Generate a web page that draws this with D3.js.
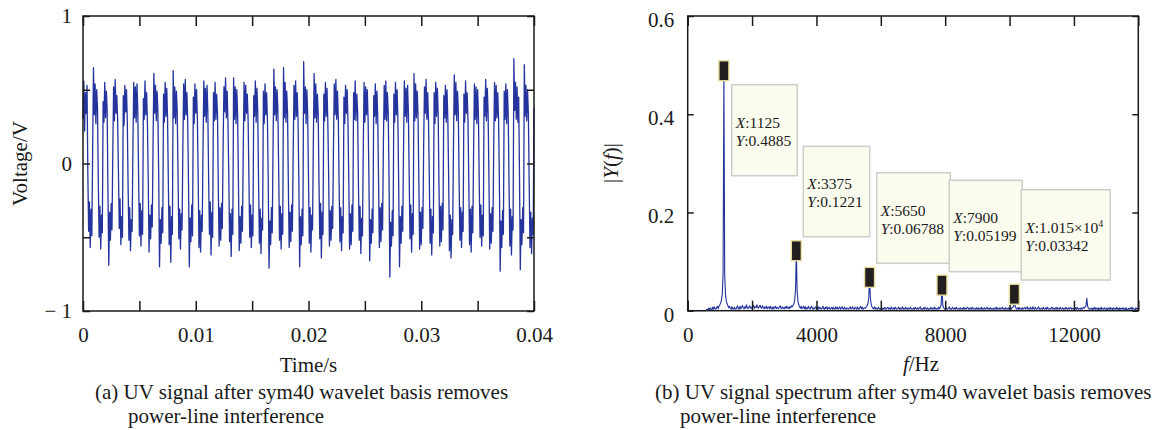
<!DOCTYPE html>
<html>
<head>
<meta charset="utf-8">
<script src="https://cdn.jsdelivr.net/npm/d3@7"></script>
<style>
  html, body { margin: 0; padding: 0; background: #fff; }
  svg { display: block; }
  text { font-family: "Liberation Serif", "Times New Roman", serif; fill: #1a1a1a; }
</style>
</head>
<body>
<svg id="fig" width="1166" height="430"></svg>
<script>
// ---- UV signal, sampled at 14 kHz over 0 ... 0.04 s (one row per ~1125 Hz cycle) ----
const sampleRate = 14000;
const uvSignal = [
  0.30, 0.56, 0.22, 0.48, 0.34, 0.53, -0.06, -0.46, -0.26, -0.57, -0.31, -0.49,
  0.10, 0.65, 0.33, 0.54, 0.27, 0.50, 0.38, -0.12, -0.50, -0.29, -0.58, -0.35, -0.47,
  0.42, 0.28, 0.55, 0.31, 0.49, 0.36, -0.20, -0.69, -0.33, -0.52, -0.27, -0.45,
  0.08, 0.52, 0.29, 0.57, 0.34, 0.46, 0.30, -0.05, -0.44, -0.24, -0.55, -0.36, -0.50,
  0.46, 0.26, 0.53, 0.35, 0.50, 0.29, -0.15, -0.52, -0.30, -0.59, -0.38, -0.46,
  0.12, 0.55, 0.31, 0.52, 0.28, 0.54, 0.37, -0.08, -0.49, -0.27, -0.56, -0.32, -0.48,
  0.44, 0.30, 0.56, 0.33, 0.48, 0.27, -0.10, -0.60, -0.35, -0.51, -0.28, -0.43,
  0.14, 0.61, 0.34, 0.53, 0.29, 0.49, 0.35, -0.09, -0.70, -0.38, -0.54, -0.30, -0.47,
  0.47, 0.28, 0.55, 0.32, 0.51, 0.30, -0.14, -0.55, -0.29, -0.67, -0.36, -0.48,
  0.63, 0.31, 0.52, 0.27, 0.49, 0.35, -0.06, -0.51, -0.31, -0.58, -0.34, -0.45,
  0.11, 0.54, 0.30, 0.57, 0.33, 0.48, 0.29, -0.13, -0.70, -0.37, -0.53, -0.28, -0.49,
  0.45, 0.27, 0.54, 0.34, 0.50, 0.31, -0.08, -0.57, -0.32, -0.60, -0.35, -0.46,
  0.09, 0.56, 0.32, 0.51, 0.28, 0.53, 0.36, -0.11, -0.48, -0.26, -0.62, -0.33, -0.50,
  0.48, 0.29, 0.55, 0.30, 0.47, 0.34, -0.16, -0.56, -0.30, -0.52, -0.27, -0.44,
  0.13, 0.52, 0.35, 0.58, 0.31, 0.49, 0.28, -0.07, -0.53, -0.34, -0.63, -0.31, -0.48,
  0.58, 0.30, 0.52, 0.27, 0.50, 0.33, -0.12, -0.59, -0.36, -0.54, -0.29, -0.46,
  0.10, 0.55, 0.29, 0.53, 0.34, 0.47, 0.30, -0.09, -0.50, -0.28, -0.57, -0.35, -0.49,
  0.46, 0.32, 0.56, 0.28, 0.51, 0.35, -0.13, -0.54, -0.31, -0.61, -0.37, -0.45,
  0.49, 0.27, 0.54, 0.33, 0.48, 0.30, -0.10, -0.71, -0.39, -0.55, -0.30, -0.47,
  0.12, 0.64, 0.33, 0.52, 0.29, 0.50, 0.36, -0.06, -0.52, -0.29, -0.58, -0.34, -0.48,
  0.65, 0.31, 0.55, 0.28, 0.49, 0.34, -0.15, -0.57, -0.33, -0.53, -0.28, -0.46,
  0.08, 0.53, 0.30, 0.56, 0.32, 0.48, 0.29, -0.11, -0.70, -0.36, -0.55, -0.31, -0.49,
  0.69, 0.34, 0.52, 0.27, 0.50, 0.33, -0.09, -0.54, -0.30, -0.60, -0.35, -0.45,
  0.14, 0.61, 0.31, 0.54, 0.28, 0.47, 0.35, -0.12, -0.51, -0.27, -0.64, -0.33, -0.48,
  0.47, 0.29, 0.55, 0.32, 0.51, 0.28, -0.07, -0.56, -0.32, -0.52, -0.29, -0.44,
  0.11, 0.54, 0.33, 0.57, 0.30, 0.49, 0.31, -0.14, -0.53, -0.30, -0.59, -0.36, -0.47,
  0.45, 0.27, 0.53, 0.34, 0.50, 0.29, -0.10, -0.58, -0.34, -0.55, -0.28, -0.46,
  0.48, 0.30, 0.56, 0.29, 0.47, 0.35, -0.13, -0.52, -0.29, -0.61, -0.37, -0.49,
  0.09, 0.55, 0.28, 0.52, 0.33, 0.50, 0.30, -0.08, -0.66, -0.38, -0.54, -0.31, -0.47,
  0.46, 0.32, 0.54, 0.27, 0.49, 0.31, -0.12, -0.57, -0.30, -0.53, -0.27, -0.45,
  0.13, 0.53, 0.30, 0.56, 0.29, 0.48, 0.34, -0.10, -0.77, -0.40, -0.56, -0.32, -0.49,
  0.47, 0.28, 0.55, 0.33, 0.50, 0.30, -0.15, -0.70, -0.36, -0.54, -0.29, -0.46,
  0.10, 0.56, 0.32, 0.51, 0.28, 0.53, 0.35, -0.07, -0.51, -0.28, -0.60, -0.34, -0.48,
  0.61, 0.29, 0.54, 0.31, 0.49, 0.33, -0.11, -0.58, -0.33, -0.55, -0.30, -0.44,
  0.12, 0.52, 0.34, 0.57, 0.30, 0.48, 0.29, -0.09, -0.54, -0.31, -0.62, -0.36, -0.47,
  0.48, 0.27, 0.55, 0.32, 0.51, 0.34, -0.14, -0.56, -0.29, -0.53, -0.27, -0.45,
  0.46, 0.31, 0.53, 0.28, 0.50, 0.30, -0.08, -0.59, -0.35, -0.64, -0.38, -0.48,
  0.11, 0.60, 0.33, 0.55, 0.29, 0.49, 0.36, -0.12, -0.52, -0.30, -0.57, -0.33, -0.46,
  0.47, 0.28, 0.56, 0.34, 0.48, 0.31, -0.10, -0.55, -0.31, -0.60, -0.29, -0.47,
  0.09, 0.54, 0.30, 0.52, 0.27, 0.50, 0.33, -0.13, -0.50, -0.28, -0.56, -0.35, -0.49,
  0.45, 0.32, 0.57, 0.29, 0.51, 0.35, -0.07, -0.58, -0.34, -0.54, -0.30, -0.46,
  0.12, 0.55, 0.29, 0.53, 0.31, 0.48, 0.30, -0.11, -0.73, -0.39, -0.57, -0.32, -0.48,
  0.49, 0.30, 0.54, 0.27, 0.50, 0.33, -0.15, -0.56, -0.31, -0.62, -0.36, -0.45,
  0.71, 0.36, 0.55, 0.30, 0.52, 0.28, 0.45, -0.09, -0.72, -0.38, -0.55, -0.30, -0.47,
  0.67, 0.32, 0.53, 0.29, 0.50, 0.34, -0.12, -0.57, -0.33, -0.61, -0.37, -0.48,
  0.38
];
const timeTicks = [0, 0.005, 0.01, 0.015, 0.02, 0.025, 0.03, 0.035, 0.04];
const timeLabels = ["0", "", "0.01", "", "0.02", "", "0.03", "", "0.04"];
const voltTicks = [-1, -0.5, 0, 0.5, 1];
const voltLabels = ["\u2212 1", "", "0", "", "1"];

// ---- single-sided amplitude spectrum, 25 Hz bins from 0 to 14000 Hz (one row per 500 Hz) ----
const binWidth = 25;
const spectrum = [
  0, 0, 0, 0, 0, 0, 0, 0, 0, 0, 0, 0, 0, 0, 0, 0, 0, 0, 0, 0,
  0, 0, 0, .001, .003, .001, .005, .002, .006, .003, .002, .007, .003, .008, .004, .003, .007, .009, .004, .010,
  .012, .016, .022, .034, .075, .4885, .072, .032, .020, .014, .010, .006, .009, .005, .003, .008, .004, .003, .007, .004,
  .003, .007, .010, .004, .003, .009, .004, .006, .011, .006, .004, .008, .005, .012, .006, .004, .008, .010, .005, .007,
  .004, .009, .011, .005, .008, .006, .012, .007, .005, .009, .011, .006, .005, .010, .006, .004, .008, .005, .009, .004,
  .006, .008, .004, .009, .005, .003, .008, .004, .007, .009, .004, .007, .005, .004, .008, .010, .005, .004, .008, .005,
  .004, .008, .005, .009, .005, .007, .004, .008, .006, .010, .008, .011, .014, .022, .042, .1221, .040, .020, .012, .008,
  .005, .009, .004, .006, .009, .004, .008, .003, .006, .004, .009, .005, .003, .007, .009, .004, .006, .003, .005, .008,
  .004, .007, .003, .008, .004, .006, .003, .005, .009, .004, .003, .007, .004, .008, .003, .005, .007, .003, .005, .007,
  .003, .007, .004, .003, .008, .004, .007, .003, .005, .008, .003, .005, .008, .004, .003, .007, .004, .003, .006, .004,
  .003, .006, .008, .003, .005, .008, .004, .003, .007, .005, .003, .008, .004, .003, .006, .009, .004, .007, .003, .005,
  .006, .005, .008, .010, .014, .026, .06788, .028, .013, .008, .005, .004, .008, .003, .006, .004, .003, .007, .004, .003,
  .004, .007, .003, .005, .003, .007, .004, .003, .006, .007, .003, .005, .003, .008, .004, .003, .006, .003, .007, .004,
  .003, .005, .007, .003, .006, .003, .004, .008, .003, .005, .003, .007, .004, .003, .006, .003, .005, .007, .003, .004,
  .003, .006, .003, .007, .004, .003, .006, .003, .005, .008, .003, .004, .003, .006, .003, .007, .004, .003, .006, .003,
  .004, .003, .007, .004, .003, .006, .003, .007, .004, .003, .005, .003, .007, .004, .008, .011, .05199, .012, .006, .004,
  .003, .007, .004, .003, .005, .008, .003, .004, .003, .007, .004, .003, .006, .003, .007, .004, .003, .005, .003, .006,
  .003, .005, .003, .007, .003, .005, .003, .006, .007, .003, .005, .003, .006, .003, .007, .004, .003, .005, .003, .006,
  .003, .006, .003, .005, .003, .007, .003, .005, .003, .006, .003, .005, .007, .003, .005, .003, .006, .003, .005, .003,
  .005, .003, .006, .003, .007, .003, .005, .003, .006, .003, .005, .007, .003, .005, .003, .006, .003, .005, .003, .006,
  .003, .005, .003, .006, .007, .009, .03342, .009, .005, .003, .006, .003, .007, .003, .005, .003, .006, .003, .005, .007,
  .003, .005, .008, .003, .005, .003, .007, .004, .003, .008, .004, .003, .007, .004, .003, .005, .008, .003, .005, .003,
  .005, .003, .007, .004, .003, .006, .003, .007, .004, .003, .005, .003, .006, .007, .003, .005, .003, .006, .003, .007,
  .003, .005, .003, .007, .004, .003, .006, .003, .005, .003, .007, .004, .003, .006, .003, .005, .007, .003, .005, .003,
  .005, .003, .006, .003, .007, .004, .003, .005, .003, .006, .003, .005, .007, .005, .008, .010, .025, .009, .005, .003,
  .005, .003, .005, .002, .006, .003, .007, .003, .005, .003, .006, .002, .005, .003, .007, .003, .005, .003, .006, .003,
  .003, .006, .002, .005, .003, .007, .003, .005, .002, .006, .003, .005, .003, .007, .003, .005, .002, .006, .003, .005,
  .003, .006, .003, .005, .002, .006, .003, .002, .005, .003, .006, .003, .007, .003, .005, .003, .002, .006, .003, .005,
  .003
];
const freqTicks = [0, 2000, 4000, 6000, 8000, 10000, 12000, 14000];
const freqLabels = ["0", "", "4000", "", "8000", "", "12000", ""];
const ampTicks = [0, 0.2, 0.4, 0.6];
const ampLabels = ["0", "0.2", "0.4", "0.6"];

// ---- data tips on the harmonic peaks ----
const tipFreq = [1125, 3375, 5650, 7900, 10150];
const tipAmp = [0.4885, 0.1221, 0.06788, 0.05199, 0.03342];
const tipXText = ["1125", "3375", "5650", "7900", "1.015\u00d710"];
const tipXExp = ["", "", "", "", "4"];
const tipYText = ["0.4885", "0.1221", "0.06788", "0.05199", "0.03342"];

const captionA = ["(a) UV signal after sym40 wavelet basis removes", "power-line interference"];
const captionB = ["(b) UV signal spectrum after sym40 wavelet basis removes", "power-line interference"];

// ---------------------------------------------------------------------------
const svg = d3.select("#fig");
const FS = 21;
const ink = "#1a1a1a";
const lineBlue = "#24349c";

function frame(g, x0, y0, x1, y1) {
  g.append("rect").attr("x", x0).attr("y", y0).attr("width", x1 - x0).attr("height", y1 - y0)
    .attr("fill", "none").attr("stroke", ink).attr("stroke-width", 1.5);
}

function styleAxis(sel) {
  sel.select(".domain").remove();
  sel.selectAll(".tick line").attr("stroke", ink).attr("stroke-width", 1.5);
  sel.selectAll(".tick text").attr("font-size", FS).attr("font-family", "Liberation Serif, serif").attr("fill", ink);
}

function panelAxes(g, x, y, opt) {
  const [xa, xb] = x.range(), [yb, ya] = y.range();
  const bottom = g.append("g").attr("transform", `translate(0,${yb})`)
    .call(d3.axisBottom(x).tickValues(opt.xTicks).tickSizeInner(-opt.xTick).tickSizeOuter(0)
      .tickPadding(opt.xPad).tickFormat((d, i) => opt.xLabels[i]));
  styleAxis(bottom);
  const top = g.append("g").attr("transform", `translate(0,${ya})`)
    .call(d3.axisTop(x).tickValues(opt.xTicks).tickSizeInner(-opt.xTick).tickSizeOuter(0).tickFormat(""));
  styleAxis(top);
  const left = g.append("g").attr("transform", `translate(${xa},0)`)
    .call(d3.axisLeft(y).tickValues(opt.yTicks).tickSizeInner(-opt.yTick).tickSizeOuter(0)
      .tickPadding(opt.yPad).tickFormat((d, i) => opt.yLabels[i]));
  styleAxis(left);
  left.selectAll(".tick text").attr("dy", opt.yDy);
  const right = g.append("g").attr("transform", `translate(${xb},0)`)
    .call(d3.axisRight(y).tickValues(opt.yTicks).tickSizeInner(-opt.yTick).tickSizeOuter(0).tickFormat(""));
  styleAxis(right);
  frame(g, xa, ya, xb, yb);
}

// ---------------- panel (a): time signal ----------------
const xA = d3.scaleLinear().domain([0, 0.04]).range([83, 534]);
const yA = d3.scaleLinear().domain([-1, 1]).range([311, 16]);
const gA = svg.append("g");

gA.append("path")
  .datum(uvSignal)
  .attr("fill", "none")
  .attr("stroke", lineBlue)
  .attr("stroke-width", 1.3)
  .attr("stroke-linejoin", "round")
  .attr("d", d3.line().x((v, i) => xA(i / sampleRate)).y(v => yA(v)));

panelAxes(gA, xA, yA, {
  xTicks: timeTicks, xLabels: timeLabels, xTick: 10, xPad: 16,
  yTicks: voltTicks, yLabels: voltLabels, yTick: 7, yPad: 11, yDy: "0.33em"
});

gA.append("text").attr("x", (83 + 534) / 2).attr("y", 371.5).attr("text-anchor", "middle")
  .attr("font-size", FS).text("Time/s");
gA.append("text").attr("transform", "translate(27,163.5) rotate(-90)").attr("text-anchor", "middle")
  .attr("font-size", FS).text("Voltage/V");

// ---------------- panel (b): spectrum ----------------
const xB = d3.scaleLinear().domain([0, 14000]).range([687.7, 1138.3]);
const yB = d3.scaleLinear().domain([0, 0.6]).range([310.7, 16]);
const gB = svg.append("g");

gB.append("path")
  .datum(spectrum)
  .attr("fill", "none")
  .attr("stroke", lineBlue)
  .attr("stroke-width", 1.1)
  .attr("stroke-linejoin", "round")
  .attr("d", d3.line().x((v, i) => xB(i * binWidth)).y(v => yB(v)));

panelAxes(gB, xB, yB, {
  xTicks: freqTicks, xLabels: freqLabels, xTick: 10, xPad: 16,
  yTicks: ampTicks, yLabels: ampLabels, yTick: 6, yPad: 13.5, yDy: "0.5em"
});

// data-tip markers
gB.selectAll("rect.tipMark")
  .data(tipFreq)
  .join("rect")
  .attr("class", "tipMark")
  .attr("x", (f) => xB(f) - 5)
  .attr("y", (f, i) => yB(tipAmp[i]) - 10)
  .attr("width", 10).attr("height", 20)
  .attr("fill", "#231f20").attr("stroke", "#e6dea0").attr("stroke-width", 1.4);

// data-tip boxes (offsets from the plot's upper-left corner)
const tipBoxes = [
  { dx: 44.0, dy: 68.7, w: 65.6, h: 91 },
  { dx: 115.6, dy: 130.3, w: 66.4, h: 90.4 },
  { dx: 189.0, dy: 156.7, w: 73.6, h: 90.6 },
  { dx: 261.6, dy: 164.3, w: 73.0, h: 91.4 },
  { dx: 333.6, dy: 173.7, w: 89.0, h: 90.3 }
];
const ox = xB.range()[0], oy = yB.range()[1];
tipFreq.forEach((f, i) => {
  const b = tipBoxes[i];
  const bx = ox + b.dx, by = oy + b.dy;
  const tip = gB.append("g");
  tip.append("rect").attr("x", bx).attr("y", by).attr("width", b.w).attr("height", b.h)
    .attr("fill", "#fbfbee").attr("stroke", "#cdcdcd").attr("stroke-width", 1.5);
  const tx = tip.append("text").attr("x", bx + 4).attr("y", by + 43).attr("font-size", 15.5);
  tx.append("tspan").attr("font-style", "italic").text("X");
  tx.append("tspan").text(":" + tipXText[i]);
  if (tipXExp[i]) tx.append("tspan").attr("font-size", 10).attr("dy", -6).text(tipXExp[i]);
  const ty = tip.append("text").attr("x", bx + 4).attr("y", by + 61).attr("font-size", 15.5);
  ty.append("tspan").attr("font-style", "italic").text("Y");
  ty.append("tspan").text(":" + tipYText[i]);
});

const fLab = gB.append("text").attr("x", 921).attr("y", 371).attr("text-anchor", "middle").attr("font-size", FS);
fLab.append("tspan").attr("font-style", "italic").text("f");
fLab.append("tspan").text("/Hz");

const yLab = gB.append("text").attr("transform", "translate(618,163) rotate(-90)").attr("text-anchor", "middle").attr("font-size", FS);
yLab.append("tspan").text("|");
yLab.append("tspan").attr("font-style", "italic").text("Y");
yLab.append("tspan").text("(");
yLab.append("tspan").attr("font-style", "italic").text("f");
yLab.append("tspan").text(")|");

// ---------------- captions ----------------
function caption(lines, x1, x2) {
  svg.append("text").attr("x", x1).attr("y", 399).attr("font-size", FS).text(lines[0]);
  svg.append("text").attr("x", x2).attr("y", 423).attr("font-size", FS).text(lines[1]);
}
caption(captionA, 95, 128);
caption(captionB, 655, 680);
</script>
</body>
</html>
